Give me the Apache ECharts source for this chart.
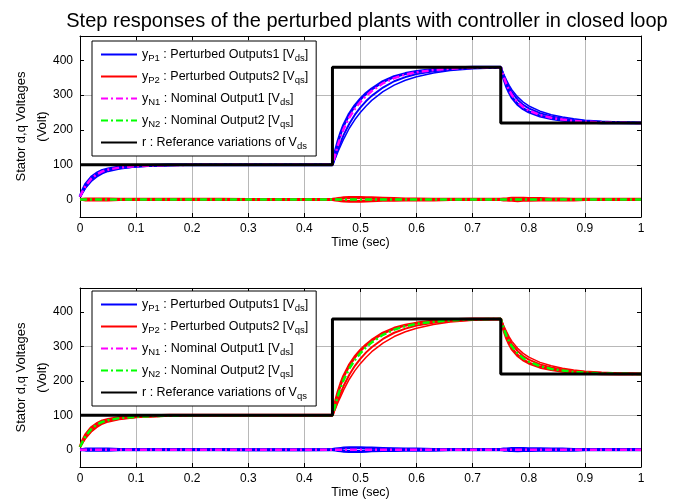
<!DOCTYPE html>
<html>
<head>
<meta charset="utf-8">
<script src="https://cdn.jsdelivr.net/npm/echarts@6/dist/echarts.min.js"></script>
<style>
html, body { margin: 0; padding: 0; background: #fff; }
#chart { width: 680px; height: 504px; }
</style>
</head>
<body>
<div id="chart"></div>
<script>
// time samples (sec) for the response curves
var T = [0, 0.005, 0.01, 0.02, 0.03, 0.04, 0.05, 0.07, 0.1, 0.13, 0.16, 0.2, 0.25, 0.3, 0.35, 0.4, 0.45,
  0.455, 0.46, 0.465, 0.47, 0.48, 0.49, 0.5, 0.51, 0.52, 0.54, 0.56, 0.58, 0.6, 0.63, 0.66, 0.7, 0.75,
  0.755, 0.76, 0.765, 0.77, 0.78, 0.79, 0.8, 0.82, 0.84, 0.86, 0.88, 0.9, 0.93, 0.96, 1.0];

// nominal output (tracking channel)
var nominal = [8, 25, 40, 60, 73, 81, 86, 92, 96, 98, 99, 100, 100, 100, 100, 100, 100,
  130, 158, 182, 203, 236, 261, 281, 298, 312, 334, 349, 359, 366, 372, 376, 379, 380,
  354, 332, 314, 300, 280, 266, 256, 243, 235, 230, 226, 224, 222, 221, 220];

// perturbed outputs (tracking channel), fast / mid / slow plants
var pertFast = [8, 28, 44, 64, 76, 84, 88, 94, 97, 99, 100, 100, 100, 100, 100, 100, 100,
  138, 168, 193, 214, 246, 270, 289, 305, 318, 339, 353, 362, 368, 374, 378, 380, 380,
  350, 326, 308, 293, 274, 261, 252, 240, 233, 228, 225, 223, 221, 220.5, 220];
var pertMid = [8, 22, 36, 56, 69, 78, 84, 90, 95, 97, 99, 100, 100, 100, 100, 100, 100,
  122, 145, 166, 186, 218, 244, 265, 283, 298, 322, 340, 352, 361, 369, 374, 378, 380,
  358, 338, 321, 307, 287, 272, 262, 248, 239, 233, 229, 226, 223, 222, 221];
var pertSlow = [8, 20, 33, 52, 65, 75, 81, 88, 94, 97, 98, 100, 100, 100, 100, 100, 100,
  118, 138, 156, 174, 205, 230, 251, 269, 285, 310, 329, 343, 353, 364, 371, 376, 379,
  361, 344, 328, 315, 295, 280, 269, 254, 244, 237, 232, 228, 225, 223, 221];

// perturbed outputs (cross channel, near zero)
var crossUp = [0, 1, 2, 2, 2, 2, 2, 1, 1, 1, 1, 1, 1, 0, 0, 0, 1,
  2, 3, 4, 5, 6, 6, 6, 5, 5, 4, 3, 2, 2, 1, 1, 1, 1,
  2, 2, 3, 4, 4, 4, 3, 3, 2, 2, 1, 1, 1, 1, 1];
var crossDown = [0, 0, -1, -1, -1, -1, -1, 0, 0, 0, 0, 0, 0, 0, 0, 0, 0,
  -1, -2, -3, -4, -5, -5, -5, -4, -3, -2, -2, -1, -1, -1, 0, 0, 0,
  -1, -1, -2, -2, -3, -2, -2, -1, -1, -1, -1, 0, 0, 0, 0];

// nominal output (cross channel)
var tZero = [0, 1];
var zero = [0, 0];

// reference step
var tRef = [0, 0.45, 0.45, 0.75, 0.75, 1];
var ref = [100, 100, 380, 380, 220, 220];

var yTicks = [0, 100, 200, 300, 400];

var N1 = 'yP1 : Perturbed Outputs1 [Vds]';
var N2 = 'yP2 : Perturbed Outputs2 [Vqs]';
var N3 = 'yN1 : Nominal Output1 [Vds]';
var N4 = 'yN2 : Nominal Output2 [Vqs]';
var N5a = 'r : Referance variations of Vds';
var N5b = 'r : Referance variations of Vqs';
var richNames = {};
richNames[N1] = 'y{s|P1} : Perturbed Outputs1 [V{s|ds}]';
richNames[N2] = 'y{s|P2} : Perturbed Outputs2 [V{s|qs}]';
richNames[N3] = 'y{s|N1} : Nominal Output1 [V{s|ds}]';
richNames[N4] = 'y{s|N2} : Nominal Output2 [V{s|qs}]';
richNames[N5a] = 'r : Referance variations of V{s|ds}';
richNames[N5b] = 'r : Referance variations of V{s|qs}';

function pairs(t, y) {
  var out = [];
  for (var i = 0; i < t.length; i++) out.push([t[i], y[i]]);
  return out;
}

var FONT = 'Liberation Sans';
var dashDot = [7, 3, 2, 3];

function line(name, ax, t, y, color, width, type) {
  return {
    name: name, type: 'line', xAxisIndex: ax, yAxisIndex: ax,
    data: pairs(t, y), symbol: 'none', legendIcon: 'none', animation: false, silent: true,
    lineStyle: { color: color, width: width, type: type || 'solid' },
    itemStyle: { color: color }
  };
}

function xAxes(g) {
  return [{
    gridIndex: g, type: 'value', min: 0, max: 1, interval: 0.1,
    name: 'Time (sec)', nameLocation: 'middle', nameGap: 19,
    nameTextStyle: { fontFamily: FONT, fontSize: 12.5, color: '#000' },
    axisLine: { show: true, onZero: false, lineStyle: { color: '#000', width: 1 } },
    axisTick: { inside: true, length: 4, lineStyle: { color: '#000' } },
    axisLabel: { fontFamily: FONT, fontSize: 12, color: '#000', margin: 6 },
    splitLine: { show: true, lineStyle: { color: '#b8b8b8', width: 1 } }
  }, {
    gridIndex: g, type: 'value', min: 0, max: 1, interval: 0.1, position: 'top',
    axisLine: { show: true, onZero: false, lineStyle: { color: '#000', width: 1 } },
    axisTick: { inside: true, length: 4, lineStyle: { color: '#000' } },
    axisLabel: { show: false }, splitLine: { show: false }
  }];
}

function yAxes(g) {
  return [{
    gridIndex: g, type: 'value', min: -50, max: 470, interval: 50,
    name: 'Stator d,q Voltages\n(Volt)', nameLocation: 'middle', nameGap: 27,
    nameMoveOverlap: false,
    nameTextStyle: { fontFamily: FONT, fontSize: 13, color: '#000', lineHeight: 21 },
    axisLine: { show: true, onZero: false, lineStyle: { color: '#000', width: 1 } },
    axisTick: { inside: true, length: 4, customValues: yTicks, lineStyle: { color: '#000' } },
    axisLabel: { fontFamily: FONT, fontSize: 12, color: '#000', margin: 7, customValues: yTicks },
    splitLine: { show: true, lineStyle: { color: ['rgba(0,0,0,0)', '#b8b8b8'], width: 1 } }
  }, {
    gridIndex: g, type: 'value', min: -50, max: 470, interval: 50, position: 'right',
    axisLine: { show: true, onZero: false, lineStyle: { color: '#000', width: 1 } },
    axisTick: { inside: true, length: 4, customValues: yTicks, lineStyle: { color: '#000' } },
    axisLabel: { show: false }, splitLine: { show: false }
  }];
}

function legend(top, names) {
  return {
    left: 92, top: top, orient: 'vertical',
    data: names,
    backgroundColor: '#fff', borderColor: '#000', borderWidth: 1,
    padding: [7, 8, 5, 8], itemGap: 7, itemWidth: 36, itemHeight: 14,
    selectedMode: false,
    itemStyle: { opacity: 0 },
    formatter: function (n) { return richNames[n]; },
    textStyle: {
      fontFamily: FONT, fontSize: 12.5, color: '#000',
      rich: { s: { fontFamily: FONT, fontSize: 9.5, color: '#000', padding: [7, 0, 0, 0] } }
    }
  };
}

var chart = echarts.init(document.getElementById('chart'));

var series = [
  // top: Vds tracking
  line(N1, 0, T, pertFast, '#0000ff', 3),
  line(N1, 0, T, pertMid, '#0000ff', 2),
  line(N1, 0, T, pertSlow, '#0000ff', 1.5),
  line(N2, 0, T, crossUp, '#ff0000', 3),
  line(N2, 0, T, crossDown, '#ff0000', 3),
  line(N3, 0, T, nominal, '#ff00ff', 2.5, dashDot),
  line(N4, 0, tZero, zero, '#00ff00', 2.5, dashDot),
  line(N5a, 0, tRef, ref, '#000000', 3),
  // bottom: Vqs tracking
  line(N1, 2, T, crossUp, '#0000ff', 3),
  line(N1, 2, T, crossDown, '#0000ff', 3),
  line(N2, 2, T, pertFast, '#ff0000', 3),
  line(N2, 2, T, pertMid, '#ff0000', 2),
  line(N2, 2, T, pertSlow, '#ff0000', 1.5),
  line(N3, 2, tZero, zero, '#ff00ff', 2.5, dashDot),
  line(N4, 2, T, nominal, '#00ff00', 2.5, dashDot),
  line(N5b, 2, tRef, ref, '#000000', 3)
];

var option = {
  backgroundColor: '#fff',
  animation: false,
  title: {
    text: 'Step responses of the perturbed plants with controller in closed loop',
    left: 362, top: 6, textAlign: 'center',
    textStyle: { fontFamily: FONT, fontSize: 20, fontWeight: 'normal', color: '#000' }
  },
  legend: [legend(41, [N1, N2, N3, N4, N5a]), legend(291, [N1, N2, N3, N4, N5b])],
  grid: [
    { left: 80, top: 36, width: 561, height: 181, containLabel: false, outerBoundsMode: 'none' },
    { left: 80, top: 288, width: 561, height: 179, containLabel: false, outerBoundsMode: 'none' }
  ],
  xAxis: xAxes(0).concat(xAxes(1)),
  yAxis: yAxes(0).concat(yAxes(1)),
  series: series
};

chart.setOption(option);
</script>
</body>
</html>
